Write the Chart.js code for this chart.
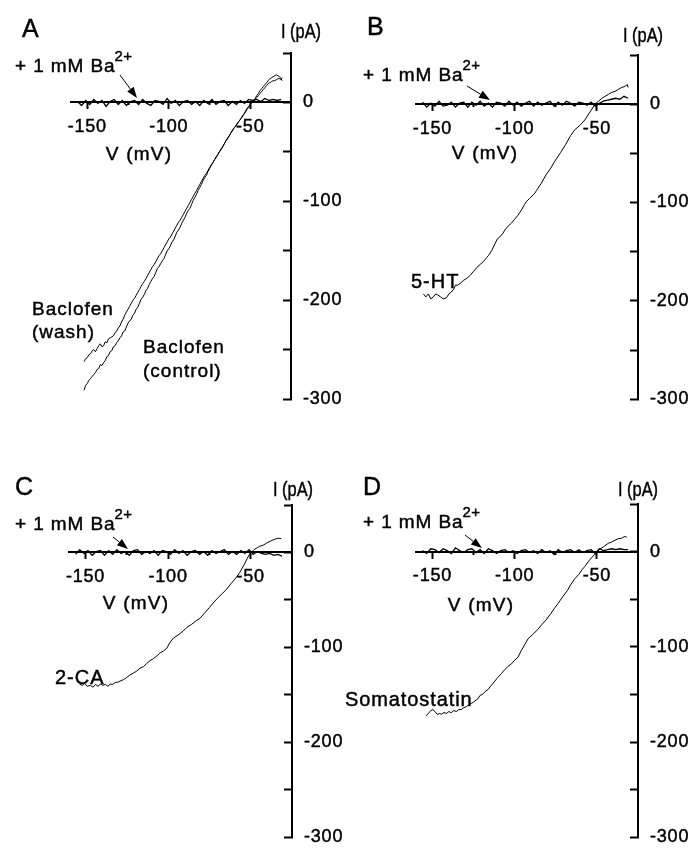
<!DOCTYPE html>
<html>
<head>
<meta charset="utf-8">
<script src="https://cdn.jsdelivr.net/npm/chart.js@4.4.1/dist/chart.umd.min.js"></script>
<style>
  html, body { margin: 0; padding: 0; background: #fff; }
  #wrap { position: relative; width: 691px; height: 868px; overflow: hidden; background: #fff; }
  canvas { position: absolute; }
</style>
</head>
<body>
<div id="wrap">
  <canvas id="cA" width="355" height="430" style="left:0px;top:0px;width:355px;height:430px"></canvas>
  <canvas id="cB" width="346" height="430" style="left:345px;top:0px;width:346px;height:430px"></canvas>
  <canvas id="cC" width="355" height="438" style="left:0px;top:430px;width:355px;height:438px"></canvas>
  <canvas id="cD" width="346" height="438" style="left:345px;top:430px;width:346px;height:438px"></canvas>
</div>
<script>
// ---------------- DATA (V in mV, I in pA) ----------------
const xMajorTicks = [-150, -100, -50];
const xMinorTicks = [-125, -75];
const yTickLabels = [0, -100, -200, -300];

// Ba2+ traces share one voltage sampling
const baV = [-156,-153.5,-151,-148.5,-146,-143.5,-141,-138.5,-136,-133.5,-131,-128.5,-126,-123.5,-121,-118.5,-116,-113.5,-111,-108.5,-106,-103.5,-101,-98.5,-96,-93.5,-91,-88.5,-86,-83.5,-81,-78.5,-76,-73.5,-71,-68.5,-66,-63.5,-61,-58.5,-56,-53.5,-51,-48.5,-46,-43.5,-41,-38.5,-36,-33.5,-31];
const baA = [1,-3,2,-2,3,-1,2,-4,1,3,-2,2,-3,1,2,-2,3,-1,-3,2,1,-2,4,-1,2,-3,1,2,-2,1,-3,2,-1,3,-2,1,2,-3,1,-2,2,-1,3,2,3,1,4,2,3,2,3];
const baB = [2,-3,1,-2,3,-2,-1,2,-3,1,2,-3,2,-1,3,-2,1,-3,2,1,-2,3,-1,2,-2,1,3,-2,2,-1,1,3,-2,2,-1,3,1,-2,2,1,-1,2,-2,1,3,4,5,6,5,8,6];
const baC = [-2,3,-1,2,-3,1,2,-3,2,-2,3,-1,1,-3,2,3,-2,1,-1,2,-3,2,1,-2,3,-1,2,-3,1,2,-2,1,-3,2,-1,1,3,-2,1,-2,2,-1,3,-2,1,-1,-2,-1,-3,-2,-4];
const baD = [1,-2,3,2,-1,3,1,-2,4,1,-1,2,3,-1,2,-2,3,1,-2,1,2,-1,1,-2,1,2,-1,1,-2,2,-1,1,-3,2,-1,1,2,-1,2,-1,1,2,-2,3,1,2,3,2,3,2,2];

// Panel A
const baclofenControl = [[-152,-291],[-151,-286],[-150,-284],[-149,-281],[-148,-279],[-147,-277],[-146,-275],[-145,-273],[-144,-270],[-143,-269],[-142,-265],[-141,-266],[-140,-263],[-139,-261],[-138,-257],[-137,-256],[-136,-252],[-135,-251],[-134,-247],[-133,-246],[-132,-243],[-131,-241],[-130,-238],[-129,-236],[-128,-232],[-127,-231],[-126,-227],[-125,-223],[-124,-221],[-123,-219],[-122,-215],[-121,-213],[-120,-209],[-119,-207],[-118,-203],[-117,-199],[-116,-197],[-115,-194],[-114,-190],[-113,-188],[-112,-184],[-111,-181],[-110,-178],[-109,-176],[-108,-172],[-107,-168],[-106,-166],[-105,-163],[-104,-160],[-103,-158],[-102,-154],[-101,-150],[-100,-148],[-99,-145],[-98,-141],[-97,-139],[-96,-135],[-95,-131],[-94,-129],[-93,-126],[-92,-122],[-91,-119],[-90,-116],[-89,-112],[-88,-109],[-87,-107],[-86,-103],[-85,-99],[-84,-96],[-83,-93],[-82,-89],[-81,-86],[-80,-83],[-79,-79],[-78,-76],[-77,-74],[-76,-70],[-75,-67],[-74,-64],[-73,-61],[-72,-58],[-71,-56],[-70,-53],[-69,-50],[-68,-48],[-67,-45],[-66,-42],[-65,-39],[-64,-36],[-63,-34],[-62,-31],[-61,-28],[-60,-26],[-59,-24],[-58,-22],[-57,-19],[-56,-17],[-55,-15],[-54,-12],[-53,-10],[-52,-7],[-51,-5],[-50,-2],[-49,0],[-48,2],[-47,4],[-46,7],[-45,9],[-44,12],[-43,14],[-42,16],[-41,18],[-40,20],[-39,22],[-38,24],[-37,25],[-36,26],[-35,27],[-34,28],[-33,27],[-32,26],[-31,24],[-30.5,22]];
const baclofenWash = [[-152,-262],[-151,-259],[-150,-258],[-149,-255],[-148,-254],[-147,-251],[-146,-250],[-145,-252],[-144,-249],[-143,-246],[-142,-244],[-141,-247],[-140,-246],[-139,-242],[-138,-243],[-137,-239],[-136,-238],[-135,-237],[-134,-236],[-133,-233],[-132,-231],[-131,-228],[-130,-226],[-129,-222],[-128,-219],[-127,-215],[-126,-212],[-125,-209],[-124,-206],[-123,-203],[-122,-200],[-121,-198],[-120,-195],[-119,-192],[-118,-189],[-117,-186],[-116,-183],[-115,-181],[-114,-178],[-113,-175],[-112,-172],[-111,-169],[-110,-166],[-109,-164],[-108,-161],[-107,-158],[-106,-155],[-105,-153],[-104,-150],[-103,-147],[-102,-144],[-101,-141],[-100,-138],[-99,-136],[-98,-133],[-97,-130],[-96,-127],[-95,-124],[-94,-121],[-93,-119],[-92,-116],[-91,-113],[-90,-110],[-89,-107],[-88,-104],[-87,-101],[-86,-98],[-85,-95],[-84,-92],[-83,-89],[-82,-86],[-81,-83],[-80,-80],[-79,-77],[-78,-74],[-77,-72],[-76,-69],[-75,-66],[-74,-63],[-73,-61],[-72,-58],[-71,-55],[-70,-53],[-69,-50],[-68,-47],[-67,-45],[-66,-42],[-65,-39],[-64,-37],[-63,-34],[-62,-31],[-61,-29],[-60,-26],[-59,-24],[-58,-21],[-57,-19],[-56,-17],[-55,-14],[-54,-12],[-53,-9],[-52,-6],[-51,-4],[-50,-2],[-49,0],[-48,2],[-47,3],[-46,5],[-45,7],[-44,9],[-43,11],[-42,13],[-41,15],[-40,17],[-39,19],[-38,20],[-37,21],[-36,22],[-35,22],[-34,23],[-33,24],[-32,24],[-31,23],[-30.5,25]];

// Panel B
const serotonin = [[-155.5,-193],[-154,-196],[-152.5,-193],[-151,-198],[-149.5,-196],[-148,-193],[-146.8,-194],[-145,-196],[-143.5,-198],[-141.6,-197],[-140,-193],[-138.5,-191],[-137,-188],[-136,-184],[-134.6,-184],[-133,-182],[-131,-179],[-129,-177],[-127,-174],[-125,-170],[-123,-166],[-121,-163],[-119,-160],[-117,-156],[-116,-154],[-114,-149],[-112,-142],[-110.5,-137],[-109,-135],[-107,-131],[-106,-128],[-104,-124],[-102,-121],[-100,-117],[-98,-113],[-96,-108],[-94,-102],[-92.9,-99],[-91,-96],[-88,-91],[-86.8,-88],[-84,-81],[-81,-72],[-78,-65],[-75.6,-58],[-72,-49],[-69,-41],[-66,-32],[-63.4,-26],[-60,-21],[-57.3,-16],[-55,-10],[-53,-5],[-51.2,0],[-49,3],[-47,6],[-45,8],[-43,10],[-41,12],[-39,13],[-37,15],[-35,17],[-33,18],[-31.5,20],[-31,17]];

// Panel C
const chloroadenosine = [[-153.6,-138.7],[-152,-140],[-150.5,-138],[-149,-141],[-147,-140],[-145.5,-142],[-144,-139],[-142.5,-141],[-141,-138.7],[-139.5,-140],[-138,-139],[-136.5,-141],[-135,-138.7],[-133.5,-139],[-132,-137],[-130,-136.5],[-128.5,-135],[-127,-134],[-125,-131.6],[-123,-129],[-121,-127],[-119,-125],[-117,-122],[-114.9,-120.3],[-113,-117],[-111,-114],[-109,-112],[-106.8,-109],[-105,-106],[-103,-104],[-100.8,-101],[-98.8,-94.5],[-96.8,-90.3],[-94,-87],[-91,-83],[-88.7,-79],[-86,-76],[-83,-72],[-80.7,-69.4],[-78,-64],[-75,-58],[-72.7,-53.2],[-70,-48],[-67,-43],[-64.6,-38.7],[-62,-33],[-59,-27],[-56.6,-21],[-54,-13],[-52,-6],[-50.6,-1.6],[-48,3],[-46,5],[-44.6,6.5],[-42,8],[-40.6,9.7],[-38,12],[-36,13.5],[-34.5,14.5],[-33,15],[-31.5,14.5]];

// Panel D
const somatostatin = [[-153.9,-172.5],[-152.5,-170],[-151,-167],[-149.8,-166],[-148.5,-168],[-147,-171],[-145.5,-170],[-144.7,-170.9],[-143,-169],[-141.5,-170],[-140,-168],[-138.6,-169.2],[-137,-167],[-135.5,-168],[-134,-166],[-132.5,-166],[-131,-164],[-129.5,-163],[-128,-161],[-126.4,-159.5],[-125,-158],[-123.5,-156],[-122.4,-154.7],[-121,-151],[-119.5,-150],[-118,-147],[-116.3,-145],[-114.5,-141],[-112.5,-137],[-110.2,-132],[-108,-128],[-106,-124],[-104.1,-120.7],[-102,-118],[-100,-114],[-98,-111],[-96,-104],[-94,-98],[-92.9,-94.8],[-91.9,-91.6],[-89,-87],[-86,-82],[-83.7,-77],[-81,-72],[-78,-65],[-76,-60],[-73.6,-54.4],[-71,-48],[-68,-41],[-66,-35],[-63.4,-28.4],[-61,-24],[-59,-19],[-57.3,-15.5],[-55,-10],[-53,-6],[-50.2,-1],[-48,3],[-46,5],[-43.1,8.7],[-41,10],[-39,12],[-37,13.6],[-35,14],[-33,16],[-31.9,15.2]];

// ---------------- RENDERING ----------------
const FONT = "'Liberation Sans', Arial, Helvetica, sans-serif";

function pairs(arr) { return arr.map(p => ({ x: p[0], y: p[1] })); }
function zipBa(vals) { return baV.map((v, k) => ({ x: v, y: vals[k] })); }

const annotPlugin = {
  id: 'annot',
  beforeDraw(chart) { chart.ctx.letterSpacing = '0.8px'; },
  afterDraw(chart, args, opts) {
    const ctx = chart.ctx;
    ctx.save();
    ctx.fillStyle = '#000';
    ctx.strokeStyle = '#000';
    ctx.lineWidth = 0.45;
    ctx.textBaseline = 'alphabetic';
    (opts.items || []).forEach(it => {
      ctx.save();
      ctx.translate(it.x, it.y);
      ctx.scale(it.sx || 1, 1);
      ctx.letterSpacing = (it.ls !== undefined ? it.ls : 1.2) + 'px';
      ctx.font = (it.s || 18) + 'px ' + FONT;
      ctx.textAlign = it.align || 'left';
      ctx.fillText(it.t, 0, 0);
      ctx.strokeText(it.t, 0, 0);
      if (it.sup) {
        const w = ctx.measureText(it.t).width;
        ctx.font = '15px ' + FONT;
        ctx.letterSpacing = '0.5px';
        ctx.textAlign = 'left';
        ctx.fillText(it.sup, w - 1, -11);
        ctx.strokeText(it.sup, w - 1, -11);
      }
      ctx.restore();
    });
    if (opts.arrow) {
      const [x1, y1, x2, y2] = opts.arrow;
      const ang = Math.atan2(y2 - y1, x2 - x1);
      const L = 11, W = 4;
      const bx = x2 - L * Math.cos(ang), by = y2 - L * Math.sin(ang);
      ctx.lineWidth = 1;
      ctx.beginPath(); ctx.moveTo(x1, y1); ctx.lineTo(bx, by); ctx.stroke();
      ctx.beginPath();
      ctx.moveTo(x2, y2);
      ctx.lineTo(bx + W * Math.sin(ang), by - W * Math.cos(ang));
      ctx.lineTo(bx - W * Math.sin(ang), by + W * Math.cos(ang));
      ctx.closePath(); ctx.fill();
    }
    ctx.restore();
    ctx.letterSpacing = '0px';
  }
};

function lineDs(data, w) {
  return { data, showLine: true, borderColor: '#000', borderWidth: w || 1, pointRadius: 0, fill: false, tension: 0 };
}

const tickFont = { family: FONT, size: 18 };

function makeChart(id, datasets, padding, yWidth, items, arrow) {
  return new Chart(document.getElementById(id), {
    type: 'scatter',
    data: { datasets },
    options: {
      animation: false, responsive: false, maintainAspectRatio: false,
      layout: { padding },
      plugins: { legend: { display: false }, tooltip: { enabled: false }, annot: { items, arrow } },
      scales: {
        x: {
          type: 'linear', min: -160, max: -25, position: { y: 0 },
          afterFit: s => { s.height = 0; },
          afterBuildTicks: s => { s.ticks = xMajorTicks.map(v => ({ value: v })); },
          grid: { drawOnChartArea: false, tickLength: 6, tickWidth: 2, tickColor: '#000' },
          border: { color: '#000', width: 2 },
          ticks: { color: '#000', font: tickFont, padding: 8, maxRotation: 0, autoSkip: false,
                   textStrokeColor: '#000', textStrokeWidth: 0.45 }
        },
        x2: {
          type: 'linear', axis: 'x', min: -160, max: -25, position: { y: 0 },
          afterFit: s => { s.height = 0; },
          afterBuildTicks: s => { s.ticks = xMinorTicks.map(v => ({ value: v })); },
          grid: { drawOnChartArea: false, tickLength: 3, tickWidth: 2, tickColor: '#000' },
          border: { display: false },
          ticks: { callback: () => '', autoSkip: false }
        },
        y: {
          type: 'linear', position: 'right', min: -300, max: 50,
          afterFit: s => { s.width = yWidth; },
          grid: { drawOnChartArea: false, tickLength: -8, tickWidth: 2, tickColor: '#000' },
          border: { color: '#000', width: 2 },
          ticks: {
            stepSize: 50, color: '#000', font: tickFont, padding: 20,
            textStrokeColor: '#000', textStrokeWidth: 0.45,
            callback: v => (yTickLabels.includes(v) ? String(v) : '')
          }
        }
      }
    },
    plugins: [annotPlugin]
  });
}

makeChart('cA',
  [lineDs(zipBa(baA), 1.3), lineDs(pairs(baclofenControl)), lineDs(pairs(baclofenWash))],
  { left: 71, top: 53, right: 0, bottom: 16 }, 64,
  [
    { t: 'A', x: 22, y: 37, s: 25, ls: 0 },
    { t: 'I (pA)', x: 281, y: 38, s: 21, ls: 0, sx: 0.78 },
    { t: '+ 1 mM Ba', x: 15, y: 72, s: 19, ls: 0.9, sup: '2+' },
    { t: 'V (mV)', x: 139, y: 160, s: 19, ls: 1.2, align: 'center' },
    { t: 'Baclofen', x: 32, y: 315, s: 19, ls: 1.0 },
    { t: '(wash)', x: 32, y: 338, s: 19, ls: 1.0 },
    { t: 'Baclofen', x: 143, y: 353, s: 19, ls: 1.0 },
    { t: '(control)', x: 143, y: 377, s: 19, ls: 1.0 }
  ],
  [120, 75, 137, 98]
);

makeChart('cB',
  [lineDs(zipBa(baB), 1.3), lineDs(pairs(serotonin))],
  { left: 71, top: 55, right: 0, bottom: 16 }, 53,
  [
    { t: 'B', x: 22, y: 35, s: 25, ls: 0 },
    { t: 'I (pA)', x: 278, y: 42, s: 21, ls: 0, sx: 0.78 },
    { t: '+ 1 mM Ba', x: 18, y: 81, s: 19, ls: 0.9, sup: '2+' },
    { t: 'V (mV)', x: 140, y: 159, s: 19, ls: 1.2, align: 'center' },
    { t: '5-HT', x: 66, y: 288, s: 20, ls: 1.0 }
  ],
  [122, 86, 145, 100]
);

makeChart('cC',
  [lineDs(zipBa(baC), 1.3), lineDs(pairs(chloroadenosine))],
  { left: 69, top: 75, right: 0, bottom: 3 }, 63,
  [
    { t: 'C', x: 15, y: 65, s: 25, ls: 0 },
    { t: 'I (pA)', x: 273, y: 66, s: 21, ls: 0, sx: 0.78 },
    { t: '+ 1 mM Ba', x: 15, y: 100, s: 19, ls: 0.9, sup: '2+' },
    { t: 'V (mV)', x: 136, y: 179, s: 19, ls: 1.2, align: 'center' },
    { t: '2-CA', x: 55, y: 254, s: 20, ls: 1.0 }
  ],
  [113, 107, 128, 119]
);

makeChart('cD',
  [lineDs(zipBa(baD), 1.3), lineDs(pairs(somatostatin))],
  { left: 71, top: 74, right: 0, bottom: 5 }, 53,
  [
    { t: 'D', x: 18, y: 65, s: 25, ls: 0 },
    { t: 'I (pA)', x: 273, y: 66, s: 21, ls: 0, sx: 0.78 },
    { t: '+ 1 mM Ba', x: 18, y: 98, s: 19, ls: 0.9, sup: '2+' },
    { t: 'V (mV)', x: 136, y: 181, s: 19, ls: 1.2, align: 'center' },
    { t: 'Somatostatin', x: 0, y: 276, s: 20, ls: 0.9 }
  ],
  [120, 105, 137, 118]
);
</script>
</body>
</html>
